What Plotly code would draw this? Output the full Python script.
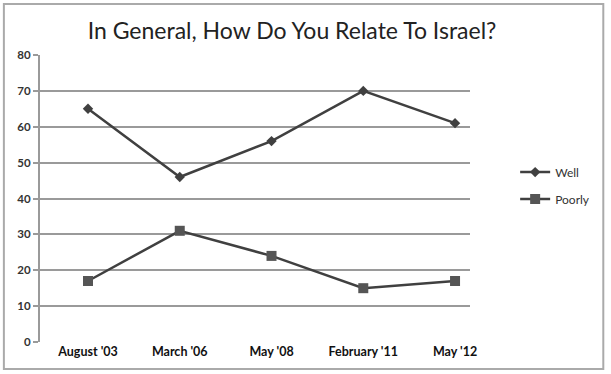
import plotly.graph_objects as go

categories = ["August '03", "March '06", "May '08", "February '11", "May '12"]
well = [65, 46, 56, 70, 61]
poorly = [17, 31, 24, 15, 17]
y_ticks = [0, 10, 20, 30, 40, 50, 60, 70, 80]

line_col = "#404040"
grid_col = "#9a9a9a"
font_fam = "Lato, 'Open Sans', sans-serif"

fig = go.Figure()
fig.add_trace(go.Scatter(
    x=categories, y=well, name="Well", mode="lines+markers",
    line=dict(color=line_col, width=2.5),
    marker=dict(symbol="diamond", size=8, color=line_col),
    legendgroup="a",
))
fig.add_trace(go.Scatter(
    x=categories, y=poorly, name="Poorly", mode="lines+markers",
    line=dict(color=line_col, width=2.5),
    marker=dict(symbol="square", size=10, color="#555555"),
    legendgroup="b",
))

fig.update_layout(
    width=611, height=374,
    margin=dict(l=40, r=141, t=55, b=32),
    paper_bgcolor="white", plot_bgcolor="white",
    title=dict(text="In General, How Do You Relate To Israel?",
               x=0.478, xanchor="center", y=0.917, yanchor="middle",
               font=dict(family=font_fam, size=23, color="#222222")),
    font=dict(family=font_fam, color="#222222"),
    showlegend=True,
    legend=dict(x=1.105, xanchor="left", y=0.545, yanchor="middle",
                font=dict(size=12, color="#333333"),
                tracegroupgap=8, itemwidth=30,
                bgcolor="rgba(0,0,0,0)"),
    xaxis=dict(type="category", range=[-0.523, 4.163],
               showgrid=False, showline=False, ticks="",
               tickfont=dict(size=12.5, color="#111111", weight="bold"),
               zeroline=False),
    yaxis=dict(range=[0, 80], tickvals=y_ticks, showgrid=True,
               gridcolor=grid_col, gridwidth=2,
               showline=True, linecolor=grid_col, linewidth=2,
               ticks="outside", ticklen=5, tickcolor=grid_col, tickwidth=1.5,
               tickfont=dict(size=11.5, color="#333333", weight="bold"),
               zeroline=False),
)

fig.add_shape(type="rect", xref="paper", yref="paper",
              x0=-0.084, x1=1.31, y0=-0.094, y1=1.178,
              line=dict(color="#aaaaaa", width=2), fillcolor="rgba(0,0,0,0)",
              layer="below")

fig.write_html("out.html", config={"displayModeBar": False})

with open("out.html", "r", encoding="utf-8") as f:
    html = f.read()
html = html.replace("<body>", "<body style=\"margin:0;padding:0;\">", 1)
with open("out.html", "w", encoding="utf-8") as f:
    f.write(html)
